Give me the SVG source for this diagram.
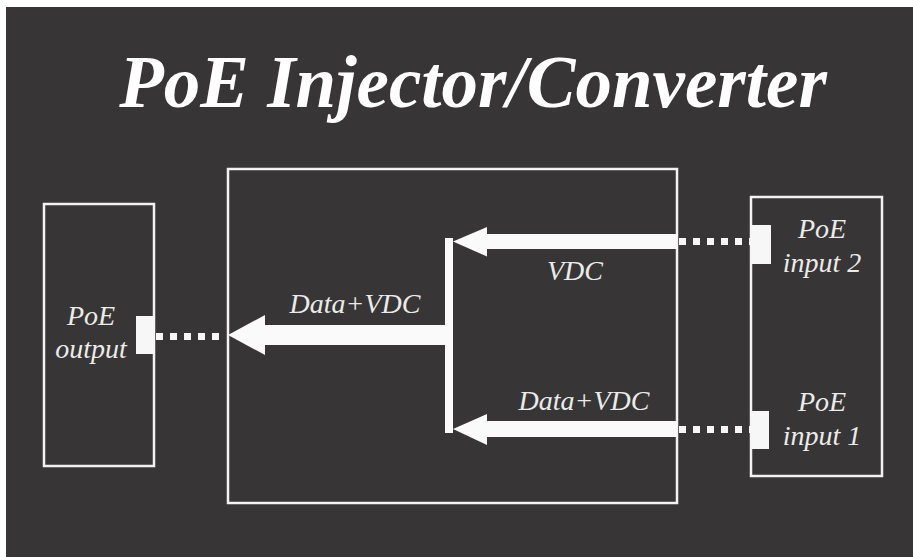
<svg xmlns="http://www.w3.org/2000/svg" width="913" height="557" viewBox="0 0 913 557">
<style>
.box{fill:none;stroke:#f2f2f2;stroke-width:2.5}
.port{fill:#f7f7f7}
.dots{stroke:#f7f7f7;stroke-width:7;stroke-dasharray:7 7;fill:none}
.arrow{fill:#fafafa}
.lbl{font-family:"Liberation Serif","Times New Roman",serif;font-style:italic;font-size:28px;fill:#ebebeb;text-anchor:middle}
.title{font-family:"Liberation Serif","Times New Roman",serif;font-style:italic;font-weight:bold;font-size:73px;fill:#ffffff;text-anchor:middle}
</style>
<rect x="0" y="0" width="913" height="557" fill="#ffffff"/>
<rect x="6" y="7" width="907" height="550" fill="#373536"/>
<text class="title" x="473" y="107">PoE Injector/Converter</text>
<g id="poe-output">
<rect class="box" x="44" y="204" width="110" height="262"/>
<rect class="port" x="136" y="316" width="19" height="38"/>
<text class="lbl" x="91" y="325">PoE</text>
<text class="lbl" x="91" y="358">output</text>
</g>
<g id="injector">
<rect class="box" x="228" y="169" width="449" height="334"/>
</g>
<g id="poe-inputs">
<rect class="box" x="751" y="197" width="131" height="279"/>
<rect class="port" x="751" y="225" width="20" height="39"/>
<rect class="port" x="751" y="411" width="18" height="38"/>
<text class="lbl" x="822" y="238">PoE</text>
<text class="lbl" x="822" y="272">input 2</text>
<text class="lbl" x="822" y="411">PoE</text>
<text class="lbl" x="822" y="445">input 1</text>
</g>
<g id="connectors">
<line class="dots" x1="156" y1="336.5" x2="224" y2="336.5"/>
<line class="dots" x1="679" y1="241.5" x2="751" y2="241.5"/>
<line class="dots" x1="679" y1="429.5" x2="751" y2="429.5"/>
<polygon class="arrow" points="677,234 487,234 487,227 453,241.5 487,256.5 487,249 677,249"/>
<polygon class="arrow" points="677,421 487,421 487,414 453,429 487,445 487,437 677,437"/>
<rect class="arrow" x="445" y="238" width="8" height="195"/>
<polygon class="arrow" points="445,325 265,325 265,315 228,335 265,355 265,345 445,345"/>
<text class="lbl" x="575" y="280">VDC</text>
<text class="lbl" x="584" y="410">Data+VDC</text>
<text class="lbl" x="355" y="313">Data+VDC</text>
</g>
</svg>
